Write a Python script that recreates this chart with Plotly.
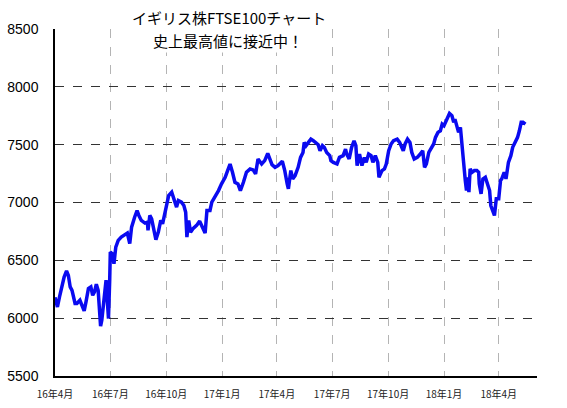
import plotly.graph_objects as go

dates = [
    "2016-04-01", "2016-04-05", "2016-04-09", "2016-04-14", "2016-04-16", "2016-04-20", "2016-04-23",
    "2016-04-26", "2016-04-29", "2016-05-04", "2016-05-07", "2016-05-12", "2016-05-16", "2016-05-19",
    "2016-05-22", "2016-05-26", "2016-05-30", "2016-06-02", "2016-06-05", "2016-06-08", "2016-06-11",
    "2016-06-13", "2016-06-15", "2016-06-17", "2016-06-19", "2016-06-22", "2016-06-24", "2016-06-26",
    "2016-06-28", "2016-06-30", "2016-07-01", "2016-07-04", "2016-07-07", "2016-07-10", "2016-07-14",
    "2016-07-19", "2016-07-25", "2016-07-29", "2016-08-02", "2016-08-05", "2016-08-10", "2016-08-14",
    "2016-08-17", "2016-08-21", "2016-08-27", "2016-08-31", "2016-09-01", "2016-09-04", "2016-09-07",
    "2016-09-11", "2016-09-14", "2016-09-18", "2016-09-22", "2016-09-25", "2016-09-29", "2016-10-03",
    "2016-10-05", "2016-10-10", "2016-10-14", "2016-10-18", "2016-10-21", "2016-10-26", "2016-10-30",
    "2016-11-02", "2016-11-04", "2016-11-07", "2016-11-10", "2016-11-14", "2016-11-20", "2016-11-25",
    "2016-11-29", "2016-12-04", "2016-12-07", "2016-12-12", "2016-12-15", "2016-12-20", "2016-12-26",
    "2016-12-31", "2017-01-06", "2017-01-10", "2017-01-14", "2017-01-18", "2017-01-22", "2017-01-27",
    "2017-01-31", "2017-02-05", "2017-02-10", "2017-02-16", "2017-02-21", "2017-02-25", "2017-03-01",
    "2017-03-07", "2017-03-12", "2017-03-17", "2017-03-21", "2017-03-24", "2017-03-29", "2017-04-03",
    "2017-04-10", "2017-04-14", "2017-04-18", "2017-04-20", "2017-04-24", "2017-04-27", "2017-05-01",
    "2017-05-06", "2017-05-10", "2017-05-14", "2017-05-16", "2017-05-19", "2017-05-23", "2017-05-27",
    "2017-05-31", "2017-06-04", "2017-06-08", "2017-06-11", "2017-06-15", "2017-06-18", "2017-06-22",
    "2017-06-27", "2017-06-29", "2017-07-03", "2017-07-09", "2017-07-13", "2017-07-19", "2017-07-23",
    "2017-07-25", "2017-07-29", "2017-08-02", "2017-08-06", "2017-08-09", "2017-08-11", "2017-08-15",
    "2017-08-19", "2017-08-23", "2017-08-26", "2017-08-30", "2017-09-03", "2017-09-06", "2017-09-10",
    "2017-09-14", "2017-09-16", "2017-09-21", "2017-09-25", "2017-09-28", "2017-10-02", "2017-10-06",
    "2017-10-10", "2017-10-16", "2017-10-20", "2017-10-26", "2017-10-29", "2017-11-02", "2017-11-06",
    "2017-11-09", "2017-11-13", "2017-11-18", "2017-11-23", "2017-11-27", "2017-11-30", "2017-12-03",
    "2017-12-07", "2017-12-11", "2017-12-15", "2017-12-18", "2017-12-22", "2017-12-26", "2017-12-29",
    "2018-01-01", "2018-01-06", "2018-01-10", "2018-01-14", "2018-01-17", "2018-01-19", "2018-01-22",
    "2018-01-25", "2018-01-28", "2018-01-30", "2018-02-02", "2018-02-05", "2018-02-07", "2018-02-09",
    "2018-02-11", "2018-02-13", "2018-02-16", "2018-02-20", "2018-02-24", "2018-02-27", "2018-02-28",
    "2018-03-03", "2018-03-06", "2018-03-10", "2018-03-14", "2018-03-17", "2018-03-19", "2018-03-23",
    "2018-03-25", "2018-03-28", "2018-04-01", "2018-04-04", "2018-04-06", "2018-04-10", "2018-04-13",
    "2018-04-17", "2018-04-21", "2018-04-24", "2018-04-28", "2018-05-02", "2018-05-05", "2018-05-08",
    "2018-05-11", "2018-05-15",
]

ftse = [
    6180, 6097, 6198, 6328, 6356, 6408, 6370,
    6270, 6241, 6127, 6127, 6155, 6103, 6063,
    6141, 6256, 6270, 6198, 6227, 6293, 6241,
    6083, 5931, 5983, 6097, 6284, 6328, 6155,
    5997, 6328, 6572, 6557, 6471, 6615, 6672,
    6701, 6724, 6735, 6644, 6787, 6873, 6931,
    6888, 6845, 6822, 6830, 6759, 6888, 6859,
    6759, 6678, 6744, 6845, 6816, 6916, 6989,
    7060, 7089, 7017, 6960, 7017, 7003, 6974,
    6916, 6701, 6845, 6744, 6773, 6802, 6839,
    6793, 6735, 6931, 6931, 7003, 7046, 7103,
    7161, 7218, 7276, 7333, 7261, 7175, 7161,
    7103, 7175, 7261, 7290, 7282, 7247, 7376,
    7333, 7362, 7425, 7376, 7327, 7304, 7319,
    7356, 7276, 7161, 7118, 7276, 7204, 7233,
    7304, 7390, 7433, 7520, 7491, 7520, 7548,
    7534, 7520, 7500, 7448, 7491, 7477, 7433,
    7405, 7362, 7347, 7333, 7390, 7405, 7462,
    7419, 7376, 7477, 7534, 7491, 7319, 7419,
    7319, 7390, 7347, 7419, 7405, 7347, 7405,
    7347, 7218, 7276, 7290, 7333, 7448, 7506,
    7534, 7548, 7520, 7448, 7506, 7548, 7520,
    7433, 7376, 7390, 7419, 7448, 7304, 7333,
    7433, 7477, 7506, 7563, 7606, 7620, 7678,
    7664, 7721, 7770, 7750, 7693, 7721, 7664,
    7606, 7649, 7506, 7362, 7190, 7103, 7218,
    7089, 7290, 7261, 7276, 7276, 7261, 7161,
    7075, 7204, 7218, 7147, 7103, 6974, 6916,
    6888, 7032, 7032, 7190, 7204, 7261, 7204,
    7347, 7405, 7477, 7520, 7563, 7620, 7693,
    7693, 7678,
]

tick_dates = ["2016-04-01", "2016-07-01", "2016-10-01", "2017-01-01", "2017-04-01",
              "2017-07-01", "2017-10-01", "2018-01-01", "2018-04-01"]
tick_labels = ["16年4月", "16年7月", "16年10月", "17年1月", "17年4月",
               "17年7月", "17年10月", "18年1月", "18年4月"]
y_ticks = [5500, 6000, 6500, 7000, 7500, 8000, 8500]

title_line1 = "イギリス株FTSE100チャート"
title_line2 = "史上最高値に接近中！"

ML, MR, MT, MB = 55, 30, 29, 32
W, H = 567, 408

fig = go.Figure()
fig.add_trace(go.Scatter(x=dates, y=ftse, mode="lines",
                         line=dict(color="#0a0af0", width=3.5), showlegend=False))

fig.update_layout(
    template="none",
    width=W, height=H,
    margin=dict(l=ML, r=MR, t=MT, b=MB, pad=0),
    plot_bgcolor="white", paper_bgcolor="white",
    font=dict(family="Liberation Sans, Arial, sans-serif", color="black"),
    xaxis=dict(
        type="date", range=["2016-04-01", "2018-06-03"], automargin=False,
        tickvals=tick_dates, ticktext=tick_labels,
        tickfont=dict(size=10, family="Noto Sans CJK JP", color="#222"),
        showgrid=True, gridcolor="#b4b4b4", griddash="dash", gridwidth=1,
        showline=True, linecolor="black", linewidth=1.5,
        ticks="", ticklabelstandoff=8, zeroline=False,
    ),
    yaxis=dict(
        range=[5500, 8500], tickvals=y_ticks, automargin=False,
        tickfont=dict(size=14, family="Liberation Sans, Arial", color="black"),
        showgrid=True, gridcolor="#333333", griddash="dash", gridwidth=1,
        showline=True, linecolor="black", linewidth=1.5,
        ticks="", ticklabelstandoff=12, zeroline=False,
    ),
)

plot_w = W - ML - MR
plot_h = H - MT - MB
for text, px, py in [(title_line1, 229, 17), (title_line2, 228, 40)]:
    fig.add_annotation(text=text, x=(px - ML) / plot_w, y=1 - (py - MT) / plot_h,
                       xref="paper", yref="paper", xanchor="center", yanchor="middle",
                       showarrow=False, bgcolor="white",
                       font=dict(size=15, family="Noto Sans CJK JP", color="black"))

fig.write_html("out.html", config={"displayModeBar": False},
               post_script="document.body.style.margin='0';")
